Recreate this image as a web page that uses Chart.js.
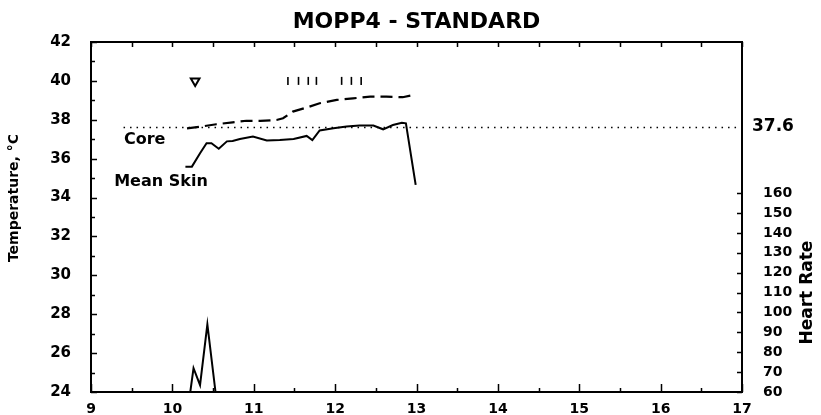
<!DOCTYPE html>
<html>
<head>
<meta charset="utf-8">
<script src="https://cdn.jsdelivr.net/npm/chart.js@4.4.0/dist/chart.umd.min.js"></script>
<style>
  html, body { margin: 0; padding: 0; background: #ffffff; }
  #wrap { width: 821px; height: 415px; }
</style>
</head>
<body>
<div id="wrap"><canvas id="chart" width="821" height="415"></canvas></div>
<script>
// Time of day (h) axis and the two temperature / heart-rate axes
const hourTicks = [9, 10, 11, 12, 13, 14, 15, 16, 17];
const tempTicks = [24, 26, 28, 30, 32, 34, 36, 38, 40, 42];
const heartRateTicks = [60, 70, 80, 90, 100, 110, 120, 130, 140, 150, 160];

// Core (rectal) temperature, dashed
const coreTime = [10.18, 10.34, 10.54, 10.74, 10.91, 11.08, 11.28, 11.36, 11.48, 11.65, 11.81, 12.02, 12.22, 12.43, 12.63, 12.83, 12.96];
const coreTemp = [37.56, 37.64, 37.77, 37.87, 37.95, 37.94, 37.99, 38.08, 38.42, 38.63, 38.85, 39.02, 39.10, 39.19, 39.19, 39.16, 39.27];

// Mean skin temperature, solid
const skinTime = [10.16, 10.24, 10.34, 10.42, 10.48, 10.57, 10.67, 10.74, 10.83, 10.99, 11.16, 11.32, 11.49, 11.65, 11.72, 11.81, 11.98, 12.14, 12.30, 12.47, 12.59, 12.71, 12.82, 12.87, 12.99];
const skinTemp = [35.59, 35.59, 36.28, 36.79, 36.79, 36.51, 36.89, 36.91, 37.01, 37.14, 36.93, 36.96, 37.01, 37.17, 36.96, 37.45, 37.56, 37.65, 37.70, 37.70, 37.51, 37.73, 37.85, 37.82, 34.65];

// Heart rate (beats/min)
const hrTime = [10.22, 10.26, 10.34, 10.43, 10.53];
const hrValue = [60, 72, 63.5, 94, 60];

// Reference core temperature line
const thresholdTime = [9.4, 17];
const thresholdTemp = [37.6, 37.6];

// Event markers along the top of the plot
const startMarkTime = [10.28];
const startMarkTemp = [40];
const eventTime = [11.42, 11.55, 11.67, 11.77, 12.08, 12.20, 12.32];
const eventTemp = [40, 40, 40, 40, 40, 40, 40];

// Curve names written next to the curves
const curveNames = ['Core', 'Mean Skin'];
const curveNameTime = [9.66, 9.86];
const curveNameTemp = [36.96, 34.80];

const FONT = "'DejaVu Sans', sans-serif";
const zip = (xs, ys) => xs.map((x, i) => ({ x: x, y: ys[i] }));

// Frame, inward tick marks, axis titles and text annotations
const decorations = {
  id: 'decorations',
  afterDraw(chart) {
    const ctx = chart.ctx;
    const a = chart.chartArea;
    const sx = chart.scales.x, sy = chart.scales.y, sh = chart.scales.y2;
    ctx.save();
    ctx.strokeStyle = '#000';
    ctx.fillStyle = '#000';

    // plot frame
    ctx.lineWidth = 2;
    ctx.strokeRect(a.left, a.top, a.right - a.left, a.bottom - a.top);

    // tick marks pointing into the plot
    ctx.lineWidth = 1.5;
    ctx.beginPath();
    for (let h = sx.min; h <= sx.max + 1e-9; h += 0.5) {
      const px = Math.round(sx.getPixelForValue(h)) + 0.5;
      const major = Math.abs(h - Math.round(h)) < 1e-9;
      ctx.moveTo(px, a.bottom);
      ctx.lineTo(px, a.bottom - (major ? 8 : 4));
      ctx.moveTo(px, a.top);
      ctx.lineTo(px, a.top + 5);
    }
    for (let t = sy.min; t <= sy.max; t += 1) {
      const py = Math.round(sy.getPixelForValue(t)) + 0.5;
      ctx.moveTo(a.left, py);
      ctx.lineTo(a.left + (t % 2 === 0 ? 6 : 4), py);
    }
    heartRateTicks.forEach(v => {
      const py = Math.round(sh.getPixelForValue(v)) + 0.5;
      ctx.moveTo(a.right, py);
      ctx.lineTo(a.right - 5, py);
    });
    ctx.stroke();

    // axis titles
    ctx.textAlign = 'center';
    ctx.textBaseline = 'middle';
    ctx.font = 'bold 14px ' + FONT;
    ctx.save();
    ctx.translate(14, 198);
    ctx.rotate(-Math.PI / 2);
    ctx.fillText('Temperature, °C', 0, 0);
    ctx.restore();

    const hrMid = (sh.getPixelForValue(heartRateTicks[0]) + sh.getPixelForValue(heartRateTicks[heartRateTicks.length - 1])) / 2;
    ctx.font = 'bold 17px ' + FONT;
    ctx.save();
    ctx.translate(808, hrMid);
    ctx.rotate(-Math.PI / 2);
    ctx.fillText('Heart Rate', 0, 0);
    ctx.restore();

    // value of the reference line, at the right edge
    ctx.textAlign = 'left';
    ctx.font = 'bold 17px ' + FONT;
    ctx.fillText(thresholdTemp[0].toFixed(1), a.right + 10, sy.getPixelForValue(thresholdTemp[0]) - 1);

    // curve names
    ctx.textAlign = 'center';
    ctx.font = 'bold 16px ' + FONT;
    curveNames.forEach((name, i) => {
      ctx.fillText(name, sx.getPixelForValue(curveNameTime[i]), sy.getPixelForValue(curveNameTemp[i]));
    });
    ctx.restore();
  }
};

const fixedTicks = list => scale => { scale.ticks = list.map(v => ({ value: v })); };

new Chart(document.getElementById('chart'), {
  type: 'line',
  data: {
    datasets: [
      {
        label: 'Core',
        data: zip(coreTime, coreTemp),
        yAxisID: 'y',
        borderColor: '#000',
        borderWidth: 2.2,
        borderDash: [12, 6],
        pointRadius: 0,
        tension: 0
      },
      {
        label: 'Mean Skin',
        data: zip(skinTime, skinTemp),
        yAxisID: 'y',
        borderColor: '#000',
        borderWidth: 2,
        pointRadius: 0,
        tension: 0
      },
      {
        label: 'Heart Rate',
        data: zip(hrTime, hrValue),
        yAxisID: 'y2',
        borderColor: '#000',
        borderWidth: 2,
        pointRadius: 0,
        tension: 0
      },
      {
        label: '37.6',
        data: zip(thresholdTime, thresholdTemp),
        yAxisID: 'y',
        borderColor: '#000',
        borderWidth: 1.5,
        borderDash: [1.5, 5],
        pointRadius: 0,
        tension: 0
      },
      {
        label: 'Start',
        data: zip(startMarkTime, startMarkTemp),
        yAxisID: 'y',
        showLine: false,
        pointStyle: 'triangle',
        rotation: 180,
        pointRadius: 5,
        pointBorderWidth: 2,
        pointBorderColor: '#000',
        pointBackgroundColor: '#fff'
      },
      {
        label: 'Events',
        data: zip(eventTime, eventTemp),
        yAxisID: 'y',
        showLine: false,
        pointStyle: 'line',
        rotation: 90,
        pointRadius: 4,
        pointBorderWidth: 1.6,
        pointBorderColor: '#000'
      }
    ]
  },
  options: {
    responsive: false,
    animation: false,
    devicePixelRatio: 1,
    events: [],
    layout: { padding: 0 },
    plugins: {
      legend: { display: false },
      tooltip: { enabled: false },
      title: {
        display: true,
        text: 'MOPP4 - STANDARD',
        fullSize: false,
        color: '#000',
        font: { family: FONT, size: 22, weight: 'bold', lineHeight: 1.2 },
        padding: { top: 9, bottom: 6.6 }
      }
    },
    scales: {
      x: {
        type: 'linear',
        position: 'bottom',
        min: 9,
        max: 17,
        afterBuildTicks: fixedTicks(hourTicks),
        afterFit: s => { s.height = 23; },
        grid: { display: false },
        border: { display: false },
        ticks: { color: '#000', padding: 1, maxRotation: 0, font: { family: FONT, size: 14, weight: 'bold' } }
      },
      y: {
        type: 'linear',
        position: 'left',
        min: 24,
        max: 42,
        afterBuildTicks: fixedTicks(tempTicks),
        afterFit: s => { s.width = 91; },
        grid: { display: false },
        border: { display: false },
        ticks: { color: '#000', padding: 12, font: { family: FONT, size: 15, weight: 'bold' } }
      },
      y2: {
        type: 'linear',
        position: 'right',
        min: 60,
        max: 236,
        afterBuildTicks: fixedTicks(heartRateTicks),
        afterFit: s => { s.width = 79; },
        grid: { display: false },
        border: { display: false },
        ticks: { color: '#000', padding: 13, font: { family: FONT, size: 14, weight: 'bold' } }
      }
    }
  },
  plugins: [decorations]
});
</script>
</body>
</html>
